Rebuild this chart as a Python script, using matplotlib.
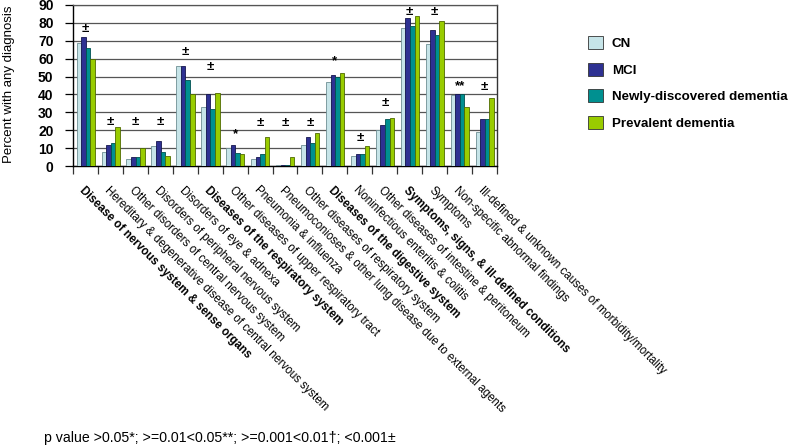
import matplotlib
matplotlib.use("Agg")
import matplotlib.pyplot as plt
import numpy as np

plt.rcParams['font.family'] = ['Liberation Sans', 'DejaVu Sans']

categories = [
    "Disease of nervous system & sense organs",
    "Hereditary & degenerative disease of central nervous system",
    "Other disorders of central nervous system",
    "Disorders of peripheral nervous system",
    "Disorders of eye & adnexa",
    "Diseases of the respiratory system",
    "Other diseases of upper respiratory tract",
    "Pneumonia & influenza",
    "Pneumoconioses & other lung disease due to external agents",
    "Other diseases of respiratory system",
    "Diseases of the digestive system",
    "Noninfectious enteritis & colitis",
    "Other diseases of intestine & peritoneum",
    "Symptoms, signs, & ill-defined conditions",
    "Symptoms",
    "Non-specific abnormal findings",
    "Ill-defined & unknown causes of morbidity/mortality",
]
bold_categories = [0, 5, 10, 13]

series_names = ["CN", "MCI", "Newly-discovered dementia", "Prevalent dementia"]
cn = [69, 8, 4, 11, 56, 33, 10, 4, 0.3, 12, 47, 5.5, 20, 77, 68, 39.5, 19]
mci = [72, 12, 5, 14, 56, 40, 12, 5, 0.3, 16, 51, 6.5, 23, 83, 76, 40.5, 26]
ndd = [66, 13, 5, 8, 48, 32, 7.5, 6.5, 0.3, 13, 50, 6.5, 26, 78, 73, 40.5, 26]
pd_ = [60, 22, 10, 5.5, 40, 41, 6.5, 16, 5, 18.5, 52, 11, 27, 84, 81, 33, 38]

significance = ["±", "±", "±", "±", "±", "±", "*", "±", "±", "±", "*", "±", "±", "±", "±", "**", "±"]
sig_y = [76.5, 24.5, 24.5, 24.5, 64, 55.5, 18, 24, 24, 24, 58.5, 15.5, 35, 86.3, 86, 44.7, 44.3]

yticks = [0, 10, 20, 30, 40, 50, 60, 70, 80, 90]
footnote = "p value >0.05*; >=0.01<0.05**; >=0.001<0.01\u2020; <0.001±"

colors = ["#c6e4e8", "#2e3192", "#009090", "#99cc00"]
edges = ["#6f8f94", "#15164f", "#005050", "#4f6a00"]

fig = plt.figure(figsize=(8, 4.47), dpi=100)
ax = fig.add_axes([73/800, 1-166/447, (497-73)/800, (166-5)/447])

x = np.arange(len(categories))
w = 0.183
data = [cn, mci, ndd, pd_]
for i, (vals, name) in enumerate(zip(data, series_names)):
    ax.bar(x + (i - 1.5) * w + 0.01, vals, width=w, color=colors[i], edgecolor=edges[i],
           linewidth=0.6, label=name, zorder=3)

for xi, s, yy in zip(x, significance, sig_y):
    ax.text(xi, yy, s, ha='center', va='center', fontsize=9.5, fontweight='bold', zorder=4)

ax.set_xlim(-0.5, len(categories) - 0.5)
ax.set_ylim(0, 90)
ax.set_yticks(yticks)
ax.set_yticklabels([str(t) for t in yticks], fontsize=10, fontweight='bold')
ax.yaxis.grid(True, color='#555555', linewidth=0.9, zorder=0)
ax.set_axisbelow(True)

ax.set_xticks(x)
ax.set_xticklabels(categories, rotation=-45, ha='left', va='top', rotation_mode='anchor', fontsize=8.3)
for i, lab in enumerate(ax.get_xticklabels()):
    if i in bold_categories:
        lab.set_fontweight('bold')
ax.tick_params(axis='x', which='major', length=0, pad=13)
ax.set_xticks(np.arange(-0.5, len(categories), 1.0), minor=True)
ax.tick_params(axis='x', which='minor', length=6, width=0.9, direction='out', color='#333333')
ax.tick_params(axis='y', length=6, width=0.9, direction='out', pad=8)

for sp in ['left', 'bottom']:
    ax.spines[sp].set_color('black')
    ax.spines[sp].set_linewidth(1.0)
ax.spines['right'].set_color('#333333')
ax.spines['right'].set_linewidth(1.0)
ax.spines['top'].set_color('#555555')
ax.spines['top'].set_linewidth(0.9)

fig.text(9/800, 1-84/447, "Percent with any diagnosis", rotation=90, ha='center', va='center', fontsize=9.5)

leg = fig.legend(loc='upper left', bbox_to_anchor=(588/800, 1-36/447), frameon=False,
                 handlelength=1.15, handleheight=1.15, labelspacing=0.93, handletextpad=0.65,
                 borderpad=0, borderaxespad=0, prop={'weight': 'bold', 'size': 9.6})
for h in leg.legend_handles:
    h.set_edgecolor('#333333')

fig.text(44/800, 1-438/447, footnote, ha='left', va='center', fontsize=10.2)

fig.savefig("out.png", dpi=100)
